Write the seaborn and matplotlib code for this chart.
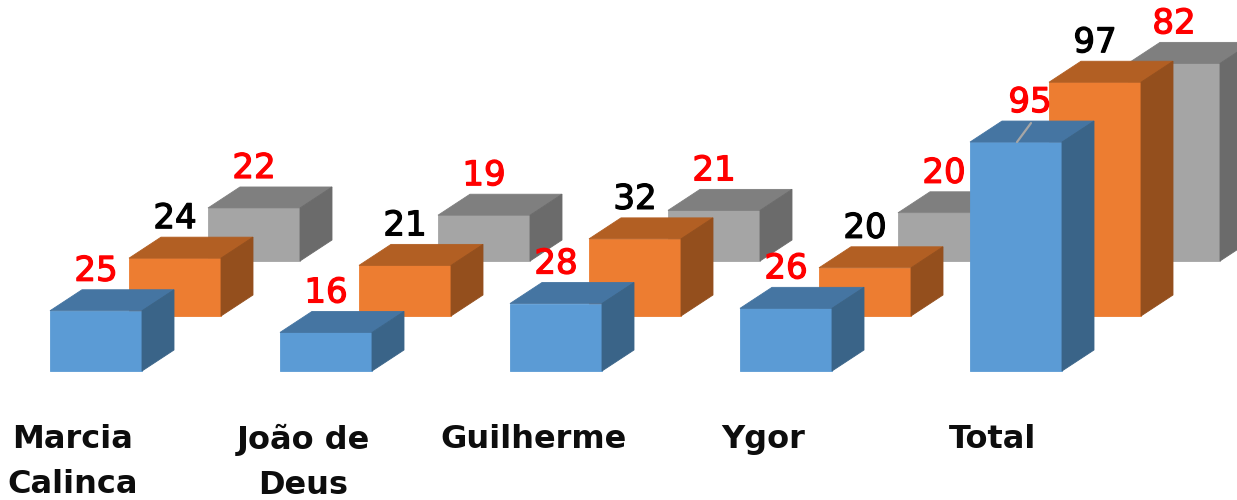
import matplotlib
matplotlib.use("Agg")
import matplotlib.pyplot as plt
import matplotlib.patheffects as pe
import seaborn as sns

categories = ["Marcia\nCalinca", "João de\nDeus", "Guilherme", "Ygor", "Total"]
blue_values = [25, 16, 28, 26, 95]
orange_values = [24, 21, 32, 20, 97]
gray_values = [22, 19, 21, 20, 82]

W, H = 1237, 500
PX_X = 230.0      # pixels per category step
PX_Y = 2.41       # pixels per value unit
DEPTH_X, DEPTH_Y = 32, 21

sns.set_theme(style="white")
plt.rcParams["font.family"] = ["DejaVu Sans"]
fig = plt.figure(figsize=(W / 100, H / 100), dpi=100, facecolor="white")

# values, front, top, side, label colour, first bar centre (px), baseline (px from top)
series = [
    (gray_values, "#A5A5A5", "#7F7F7F", "#6B6B6B", "#FF0000", 254, 261),
    (orange_values, "#ED7D31", "#B25F23", "#944F1D", "#000000", 175, 316),
    (blue_values, "#5B9BD5", "#4575A2", "#3A6488", "#FF0000", 96, 371),
]


def add_label(ax, x, top, text, colour, nudge=0):
    ax.text(x + nudge / PX_X, top + 39.5 / PX_Y, str(text), ha="center", va="center",
            color=colour, fontsize=24.5, clip_on=False,
            path_effects=[pe.withStroke(linewidth=0.9, foreground=colour)])


for values, front, top_c, side_c, label_c, cx0, base in series:
    ax = fig.add_axes([0, 0, 1, 1], facecolor="none")
    sns.barplot(x=categories, y=values, color=front, saturation=1, width=0.4, ax=ax,
                linewidth=0.6, edgecolor=front)
    ax.set_xlim(-cx0 / PX_X, (W - cx0) / PX_X)
    ax.set_ylim(-(H - base) / PX_Y, base / PX_Y)
    ax.axis("off")
    dx, dy = DEPTH_X / PX_X, DEPTH_Y / PX_Y
    for i, patch in enumerate(ax.patches):
        x0, w, h = patch.get_x(), patch.get_width(), patch.get_height()
        x1 = x0 + w
        ax.fill([x0, x1, x1 + dx, x0 + dx], [h, h, h + dy, h + dy],
                color=top_c, lw=0.6, zorder=3)
        ax.fill([x1, x1 + dx, x1 + dx, x1], [0, dy, h + dy, h],
                color=side_c, lw=0.6, zorder=3)
        nudge = 14 if values is blue_values and values[i] == max(values) else 0
        add_label(ax, x0 + w / 2, h, values[i], label_c, nudge)
        if nudge:
            ax.plot([x0 + w / 2 + 1 / PX_X, x0 + w / 2 + 15 / PX_X], [h, h + 19 / PX_Y],
                    color="#A6A6A6", lw=1.6, zorder=4)
    if values is blue_values:
        for i, name in enumerate(categories):
            ax.text(i - 23 / PX_X, -(424 - base) / PX_Y, name, ha="center", va="top",
                    fontsize=23, fontweight="bold", color="#0D0D0D",
                    linespacing=1.59, clip_on=False)

fig.savefig("out.png", dpi=100, facecolor="white")
